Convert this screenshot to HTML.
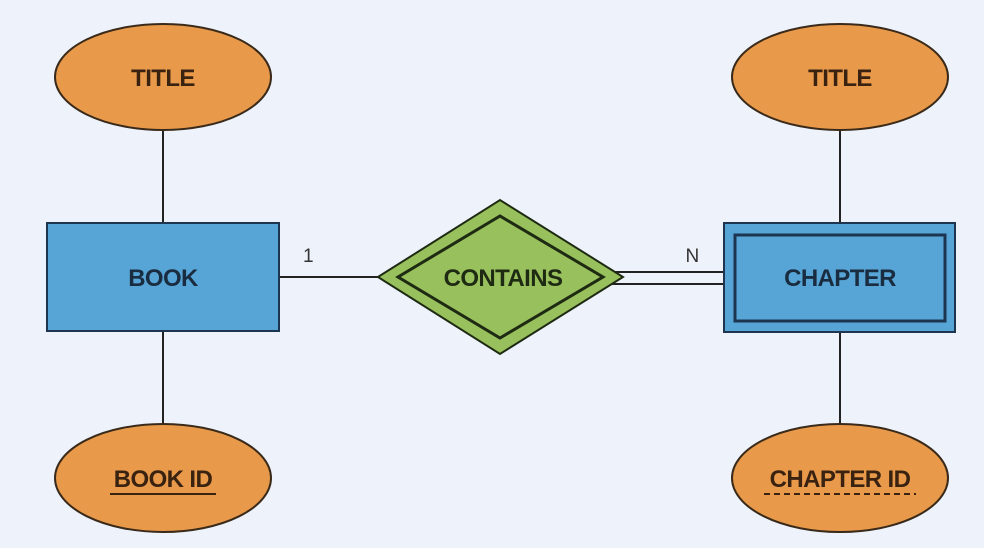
<!DOCTYPE html>
<html><head><meta charset="utf-8"><style>
html,body{margin:0;padding:0;background:#eef3fb;}
svg{display:block}
text{font-family:"Liberation Sans",sans-serif;font-weight:bold;font-size:24px;text-anchor:middle;letter-spacing:-0.6px}
</style></head><body>
<svg width="984" height="548" viewBox="0 0 984 548" xmlns="http://www.w3.org/2000/svg">
<rect width="984" height="548" fill="#eef3fb"/>
<g stroke="#222" stroke-width="2" fill="none">
<line x1="163" y1="130" x2="163" y2="223"/>
<line x1="163" y1="331" x2="163" y2="424"/>
<line x1="840" y1="130" x2="840" y2="223"/>
<line x1="840" y1="332" x2="840" y2="424"/>
<line x1="279" y1="277" x2="380" y2="277"/>
<line x1="610" y1="272" x2="724" y2="272"/>
<line x1="612" y1="284" x2="724" y2="284"/>
</g>
<g stroke="#3a2a1a" stroke-width="2" fill="#e8994a">
<ellipse cx="163" cy="77" rx="108" ry="53"/>
<ellipse cx="163" cy="478" rx="108" ry="54"/>
<ellipse cx="840" cy="77" rx="108" ry="53"/>
<ellipse cx="840" cy="478" rx="108" ry="54"/>
</g>
<rect x="47" y="223" width="232" height="108" fill="#57a5d6" stroke="#1e3550" stroke-width="2"/>
<rect x="724" y="223" width="231" height="109" fill="#57a5d6" stroke="#1e3550" stroke-width="2"/>
<rect x="735" y="235" width="210" height="86" fill="none" stroke="#1e3550" stroke-width="3"/>
<polygon points="378,277 500,200 623,277 500,354" fill="#98c15e" stroke="#1e2a12" stroke-width="2"/>
<polygon points="398,277 500,216 603,277 500,338" fill="none" stroke="#1e2a12" stroke-width="3"/>
<g fill="#3a2210">
<text x="163" y="86">TITLE</text>
<text x="840" y="86">TITLE</text>
<text x="163" y="487">BOOK ID</text>
<text x="840" y="487">CHAPTER ID</text>
</g>
<line x1="110" y1="494" x2="216" y2="494" stroke="#3a2210" stroke-width="2"/>
<line x1="764" y1="494" x2="916" y2="494" stroke="#3a2210" stroke-width="2" stroke-dasharray="6,4"/>
<g fill="#1a2c40">
<text x="163" y="286">BOOK</text>
<text x="840" y="286">CHAPTER</text>
</g>
<text x="503" y="286" fill="#1e2a12">CONTAINS</text>
<text x="308" y="262" style="font-weight:normal;font-size:19px" fill="#333">1</text>
<text x="692" y="262" style="font-weight:normal;font-size:19px" fill="#333">N</text>
</svg>
</body></html>
